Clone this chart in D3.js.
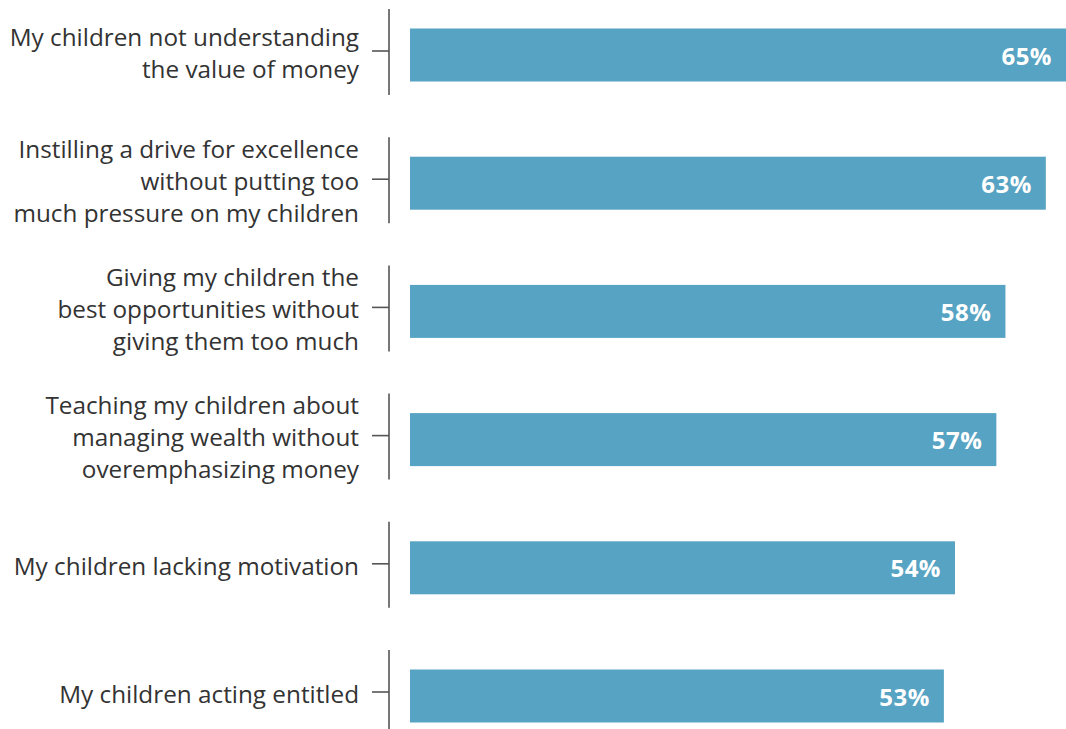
<!DOCTYPE html>
<html>
<head>
<meta charset="utf-8">
<script src="https://cdn.jsdelivr.net/npm/d3@7"></script>
<style>
  body { margin: 0; background: #fff; }
  svg { display: block; }
  .label { font-family: "Open Sans", sans-serif; font-size: 24.3px; fill: #333; }
  .val { font-family: "Open Sans", sans-serif; font-size: 24px; font-weight: bold; fill: #fff; letter-spacing: 0.5px; }
</style>
</head>
<body>
<svg width="1066" height="729"></svg>
<script>
  // categories, split in lines as on the chart
  var categories = [
    ["My children not understanding", "the value of money"],
    ["Instilling a drive for excellence", "without putting too", "much pressure on my children"],
    ["Giving my children the", "best opportunities without", "giving them too much"],
    ["Teaching my children about", "managing wealth without", "overemphasizing money"],
    ["My children lacking motivation"],
    ["My children acting entitled"]
  ];
  // bar lengths as drawn (in %)
  var values = [65, 63, 59, 58.1, 54, 52.9];
  // printed labels
  var valueLabels = ["65%", "63%", "58%", "57%", "54%", "53%"];

  var svg = d3.select("svg");

  var y = d3.scalePoint()
    .domain(d3.range(categories.length))
    .range([51, 692]);

  var x = d3.scaleLinear()
    .domain([0, 65])
    .range([410, 1066]);

  var axisX = 389, lineH = 32, barH = 53;

  var row = svg.selectAll(".row")
    .data(categories)
    .enter().append("g")
    .attr("class", "row")
    .attr("transform", function(d, i) { return "translate(0," + y(i) + ")"; });

  // axis segment per category
  row.append("line")
    .attr("x1", axisX).attr("x2", axisX)
    .attr("y1", -42).attr("y2", 44)
    .attr("stroke", "#555").attr("stroke-width", 1.6);

  row.append("line")
    .attr("x1", axisX - 17).attr("x2", axisX)
    .attr("y1", 0).attr("y2", 0)
    .attr("stroke", "#555").attr("stroke-width", 1.6);

  row.append("rect")
    .attr("x", x(0))
    .attr("y", -barH / 2 + 4)
    .attr("height", barH)
    .attr("width", function(d, i) { return x(values[i]) - x(0); })
    .attr("fill", "#57a3c3");

  row.append("text")
    .attr("class", "val")
    .attr("x", function(d, i) { return x(values[i]) - 14; })
    .attr("y", 5)
    .attr("dy", "0.36em")
    .attr("text-anchor", "end")
    .text(function(d, i) { return valueLabels[i]; });

  row.append("text")
    .attr("class", "label")
    .attr("text-anchor", "end")
    .selectAll("tspan")
    .data(function(d) { return d; })
    .enter().append("tspan")
    .attr("x", 359)
    .attr("y", function(d, i, nodes) { return (i - (nodes.length - 1) / 2) * lineH + 2; })
    .attr("dy", "0.36em")
    .text(function(d) { return d; });
</script>
</body>
</html>
